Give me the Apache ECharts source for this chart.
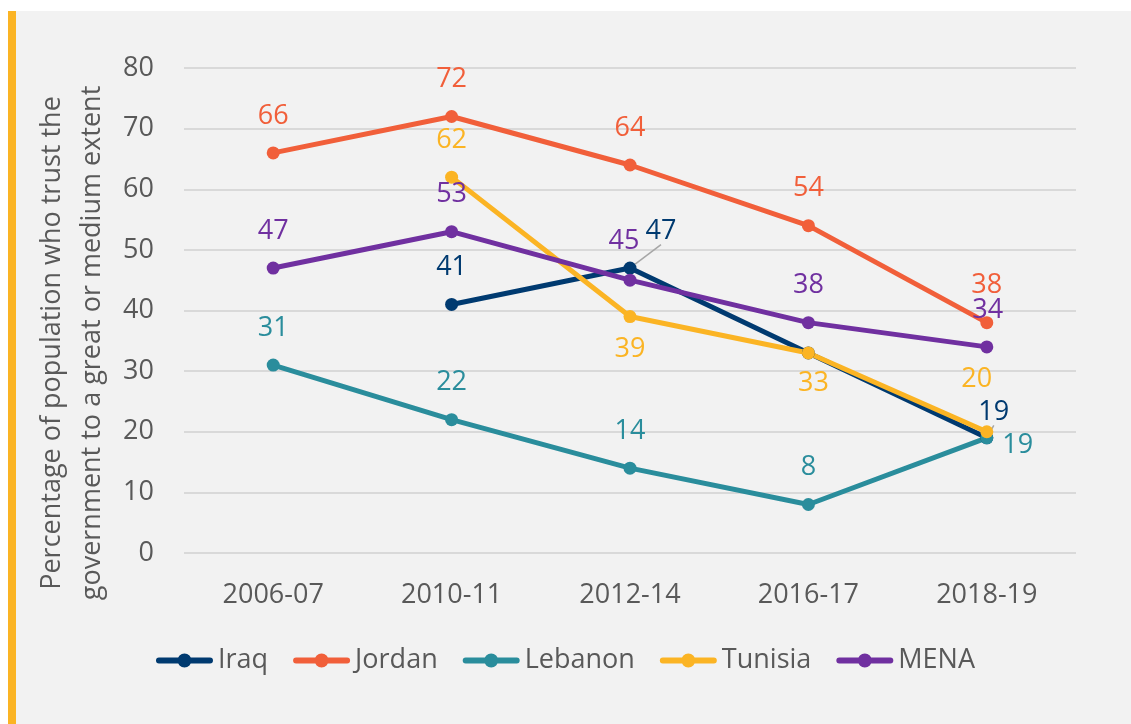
<!DOCTYPE html>
<html>
<head>
<meta charset="utf-8">
<script src="https://cdn.jsdelivr.net/npm/echarts@6/dist/echarts.min.js"></script>
<style>
  html, body { margin: 0; padding: 0; background: #fff; }
  #chart { width: 1131px; height: 724px; }
</style>
</head>
<body>
<div id="chart"></div>
<script>
// periods on the x axis
const categories = ['2006-07', '2010-11', '2012-14', '2016-17', '2018-19'];

// % who trust the government to a great or medium extent
const iraq    = [null, 41, 47, 33, 19];
const jordan  = [66, 72, 64, 54, 38];
const lebanon = [31, 22, 14, 8, 19];
const tunisia = [null, 62, 39, 33, 20];
const mena    = [47, 53, 45, 38, 34];

const yTicks = [0, 10, 20, 30, 40, 50, 60, 70, 80];

const FONT = '"Open Sans", sans-serif';
const TXT = '#595959';

// thick line with a dot, like the excel legend keys
const LEGEND_ICON = 'path://M3,4 L54,4 A3,3 0 0 1 54,10 L3,10 A3,3 0 0 1 3,4 Z ' +
    'M21.5,7 A7,7 0 0 1 35.5,7 A7,7 0 0 1 21.5,7 Z';

// where the value labels sit, relative to the point (default above)
const labelOffsets = {
    Iraq:    { 2: [31, -37], 3: null, 4: [7, -26] },
    Lebanon: { 4: [31, 7] },
    Tunisia: { 2: [0, 33], 3: [5, 30], 4: [-10, -52] },
    MENA:    { 2: [-6, -39], 4: [1, -37] }
};
// labels that get a grey leader line
const leaders = { Iraq: [2, 4] };

function makeSeries (name, values, color) {
    let tweaks = labelOffsets[name] || {};
    let lead = leaders[name] || [];
    let data = values.map(function (v, i) {
        if (v === null) return null;
        let off = tweaks.hasOwnProperty(i) ? tweaks[i] : [0, -37];
        if (off === null) return { value: v, label: { show: false } };
        let item = { value: v, label: { offset: off } };
        if (lead.indexOf(i) >= 0) {
            item.labelLine = { show: true, lineStyle: { color: '#a6a6a6', width: 1.5 } };
        }
        return item;
    });
    return {
        name: name,
        type: 'line',
        data: data,
        symbol: 'circle',
        symbolSize: 13,
        lineStyle: { width: 5, color: color },
        itemStyle: { color: color },
        label: {
            show: true,
            position: 'inside',
            color: color,
            fontFamily: FONT,
            fontSize: 27
        }
    };
}

let chart = echarts.init(document.getElementById('chart'));
chart.setOption({
    backgroundColor: '#fff',
    animation: false,
    graphic: [
        { type: 'rect', left: 16, top: 11, shape: { width: 1115, height: 713 }, style: { fill: '#f2f2f2' }, z: -10 },
        { type: 'rect', left: 8, top: 11, shape: { width: 8, height: 713 }, style: { fill: '#fbb424' }, z: -10 },
        {
            type: 'text',
            x: 72,
            y: 343,
            rotation: Math.PI / 2,
            style: {
                text: 'Percentage of population who trust the\ngovernment to a great or medium extent',
                fill: TXT,
                font: '27px ' + FONT,
                lineHeight: 40,
                align: 'center',
                verticalAlign: 'middle'
            }
        }
    ],
    grid: {
        left: 184,
        right: 55,
        top: 68,
        bottom: 171
    },
    legend: {
        top: 642,
        left: 'center',
        icon: LEGEND_ICON,
        itemWidth: 57,
        itemHeight: 14,
        itemGap: 25,
        textStyle: { color: TXT, fontFamily: FONT, fontSize: 27 },
        data: ['Iraq', 'Jordan', 'Lebanon', 'Tunisia', 'MENA']
    },
    xAxis: {
        type: 'category',
        data: categories,
        axisLine: { show: false },
        axisTick: { show: false },
        axisLabel: { color: TXT, fontFamily: FONT, fontSize: 27, margin: 29 }
    },
    yAxis: {
        type: 'value',
        min: yTicks[0],
        max: yTicks[yTicks.length - 1],
        interval: 10,
        axisLine: { show: false },
        axisTick: { show: false },
        axisLabel: { color: TXT, fontFamily: FONT, fontSize: 27, margin: 30 },
        splitLine: { lineStyle: { color: '#d9d9d9', width: 2 } }
    },
    series: [
        makeSeries('Iraq', iraq, '#003a70'),
        makeSeries('Jordan', jordan, '#f15f3a'),
        makeSeries('Lebanon', lebanon, '#2a8d9c'),
        makeSeries('Tunisia', tunisia, '#fbb424'),
        makeSeries('MENA', mena, '#7030a0')
    ]
});
</script>
</body>
</html>
